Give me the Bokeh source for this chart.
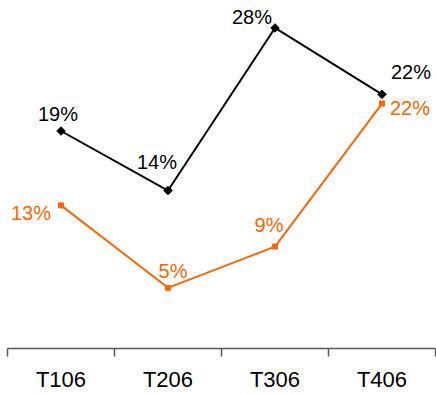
import math
from bokeh.plotting import figure
from bokeh.models import ColumnDataSource, Range1d, FixedTicker
from bokeh.core.properties import value
from bokeh.embed import file_html
from bokeh.resources import INLINE

categories = ["T106", "T206", "T306", "T406"]
black_values = [19.0, 13.8, 28.0, 22.2]
black_labels = ["19%", "14%", "28%", "22%"]
orange_values = [12.5, 5.3, 8.9, 21.4]
orange_labels = ["13%", "5%", "9%", "22%"]

# label placement (pixels, relative to the point)
black_dx = [-3, -11, -23, 29]
black_dy = [-17, -29, -11, -22]
orange_dx = [-30, 5, -6, 28]
orange_dy = [8, -17, -22, 4]

BLACK = "#000000"
ORANGE = "#FF6600"
FONT = "Liberation Sans"

xs = [i + 0.5 for i in range(len(categories))]

p = figure(width=436, height=394, output_backend="svg", toolbar_location=None,
           x_range=Range1d(0, len(categories)), y_range=Range1d(0, 30.4),
           min_border_left=7, min_border_right=1, min_border_top=0, min_border_bottom=44)
p.outline_line_color = None
p.background_fill_color = "white"
p.border_fill_color = "white"
p.grid.visible = False
p.yaxis.visible = False

ax = p.xaxis[0]
ax.ticker = FixedTicker(ticks=xs, minor_ticks=list(range(len(categories) + 1)))
ax.major_label_overrides = {x: c for x, c in zip(xs, categories)}
ax.major_tick_out = 0
ax.major_tick_in = 0
ax.minor_tick_out = 8
ax.minor_tick_in = 0
ax.minor_tick_line_color = "#595959"
ax.axis_line_color = "#595959"
ax.axis_line_width = 1.5
ax.minor_tick_line_width = 1.5
ax.major_label_text_font = FONT
ax.major_label_text_font_size = "22px"
ax.major_label_text_color = "#000000"
ax.major_label_standoff = 10

bsrc = ColumnDataSource(dict(x=xs, y=black_values, t=black_labels, dx=black_dx, dy=black_dy))
osrc = ColumnDataSource(dict(x=xs, y=orange_values, t=orange_labels, dx=orange_dx, dy=orange_dy))

p.line("x", "y", source=bsrc, line_color=BLACK, line_width=2)
p.scatter("x", "y", source=bsrc, marker="square", size=6, angle=math.pi / 4,
          fill_color=BLACK, line_color=BLACK)
p.line("x", "y", source=osrc, line_color=ORANGE, line_width=2)
p.scatter("x", "y", source=osrc, marker="square", size=5,
          fill_color=ORANGE, line_color=ORANGE)

p.text("x", "y", text="t", source=bsrc, x_offset="dx", y_offset="dy",
       text_align="center", text_baseline="alphabetic",
       text_font=value(FONT), text_font_size="20px", text_color=BLACK)
p.text("x", "y", text="t", source=osrc, x_offset="dx", y_offset="dy",
       text_align="center", text_baseline="alphabetic",
       text_font=value(FONT), text_font_size="20px", text_color=ORANGE)

open("out.html", "w").write(file_html(p, INLINE))
